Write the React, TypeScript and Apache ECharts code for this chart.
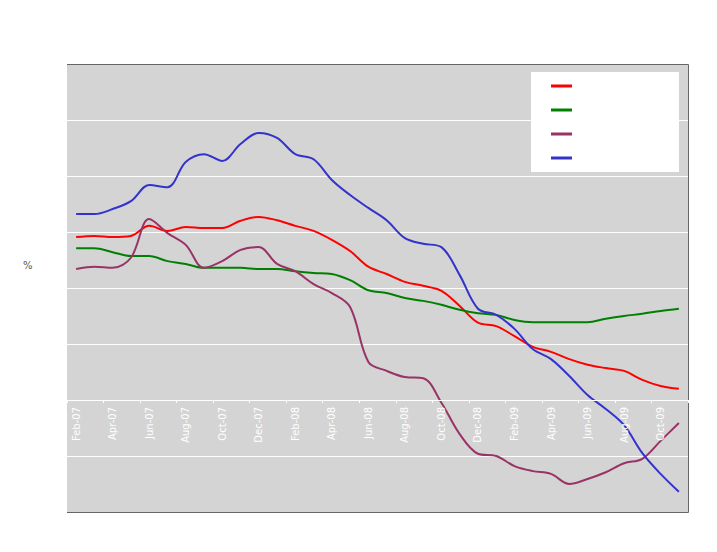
import React, { useEffect, useRef } from "react";
import * as echarts from "echarts";

const months = [
  "Feb-07", "Mar-07", "Apr-07", "May-07", "Jun-07", "Jul-07", "Aug-07", "Sep-07", "Oct-07", "Nov-07", "Dec-07",
  "Jan-08", "Feb-08", "Mar-08", "Apr-08", "May-08", "Jun-08", "Jul-08", "Aug-08", "Sep-08", "Oct-08", "Nov-08", "Dec-08",
  "Jan-09", "Feb-09", "Mar-09", "Apr-09", "May-09", "Jun-09", "Jul-09", "Aug-09", "Sep-09", "Oct-09", "Nov-09",
];

const seriesNames = ["Series 1", "Series 2", "Series 3", "Series 4"];

const redValues = [
  2.91, 2.93, 2.91, 2.93, 3.11, 3.02, 3.09, 3.07, 3.07, 3.2, 3.27,
  3.21, 3.11, 3.02, 2.86, 2.66, 2.38, 2.25, 2.11, 2.04, 1.95, 1.68, 1.38,
  1.32, 1.14, 0.95, 0.86, 0.73, 0.63, 0.57, 0.52, 0.36, 0.25, 0.2,
];

const greenValues = [
  2.71, 2.71, 2.64, 2.57, 2.57, 2.48, 2.43, 2.36, 2.36, 2.36, 2.34,
  2.34, 2.3, 2.27, 2.25, 2.14, 1.96, 1.91, 1.82, 1.77, 1.7, 1.61, 1.55,
  1.52, 1.43, 1.39, 1.39, 1.39, 1.39, 1.45, 1.5, 1.54, 1.59, 1.63,
];

const purpleValues = [
  2.34, 2.38, 2.36, 2.54, 3.23, 2.98, 2.77, 2.36, 2.48, 2.68, 2.73,
  2.43, 2.3, 2.07, 1.91, 1.66, 0.68, 0.52, 0.41, 0.39, -0.05, -0.61, -0.96,
  -1.0, -1.18, -1.27, -1.32, -1.5, -1.41, -1.29, -1.13, -1.05, -0.73, -0.41,
];

const blueValues = [
  3.32, 3.32, 3.41, 3.55, 3.84, 3.8, 4.25, 4.39, 4.27, 4.57, 4.77,
  4.68, 4.39, 4.3, 3.93, 3.66, 3.43, 3.21, 2.89, 2.79, 2.73, 2.23, 1.63,
  1.52, 1.27, 0.91, 0.73, 0.43, 0.09, -0.16, -0.45, -0.95, -1.32, -1.64,
];

const colors = ["#ff0000", "#008000", "#993366", "#3333cc"];

export default function App() {
  const ref = useRef<HTMLDivElement>(null);

  useEffect(() => {
    document.body.style.margin = "0";
    if (!ref.current) return;
    const chart = echarts.init(ref.current, null, { renderer: "svg" });
    const allValues = [redValues, greenValues, purpleValues, blueValues];
    chart.setOption({
      animation: false,
      backgroundColor: "#ffffff",
      textStyle: { fontFamily: "DejaVu Sans" },
      grid: {
        left: 67,
        right: 29,
        top: 64,
        bottom: 40,
        show: true,
        backgroundColor: "#d4d4d4",
        borderWidth: 0,
      },
      legend: {
        orient: "vertical",
        left: 531,
        top: 72,
        padding: [7, 10, 7, 20],
        itemWidth: 21,
        itemHeight: 3,
        itemGap: 10,
        icon: "rect",
        textStyle: { color: "#ffffff", fontSize: 11, lineHeight: 14 },
        data: seriesNames,
      },
      graphic: [
        {
          type: "rect",
          z: 1,
          shape: { x: 531, y: 72, width: 148, height: 100 },
          style: { fill: "#ffffff" },
        },
        {
          type: "polyline",
          z: 1,
          shape: { points: [[67, 64.5], [688.5, 64.5], [688.5, 512.5], [67, 512.5]] },
          style: { stroke: "#666666", lineWidth: 1, fill: null },
        },
        {
          type: "text",
          x: 23,
          y: 260,
          style: { text: "%", fontSize: 10, fill: "#555555", fontFamily: "DejaVu Sans" },
        },
      ],
      xAxis: {
        type: "category",
        data: months,
        boundaryGap: true,
        offset: -112,
        z: 10,
        axisLine: { onZero: false, lineStyle: { color: "#ffffff", width: 1 } },
        axisTick: { show: true, interval: 1, length: 3, lineStyle: { color: "#ffffff" } },
        axisLabel: { show: true, interval: 1, rotate: 90, color: "#ffffff", fontSize: 10, margin: 7 },
        splitLine: { show: false },
      },
      yAxis: {
        type: "value",
        min: -2,
        max: 6,
        interval: 1,
        axisLine: { show: false },
        axisTick: { show: false },
        axisLabel: { color: "#ffffff", fontSize: 10 },
        splitLine: { show: true, lineStyle: { color: "#ffffff", width: 1 } },
      },
      series: seriesNames.map((name, i) => ({
        name,
        type: "line",
        data: allValues[i],
        smooth: 0.35,
        symbol: "none",
        lineStyle: { color: colors[i], width: 2 },
        itemStyle: { color: colors[i] },
      })),
    });
    return () => chart.dispose();
  }, []);

  return <div ref={ref} style={{ width: 717, height: 552 }} />;
}
